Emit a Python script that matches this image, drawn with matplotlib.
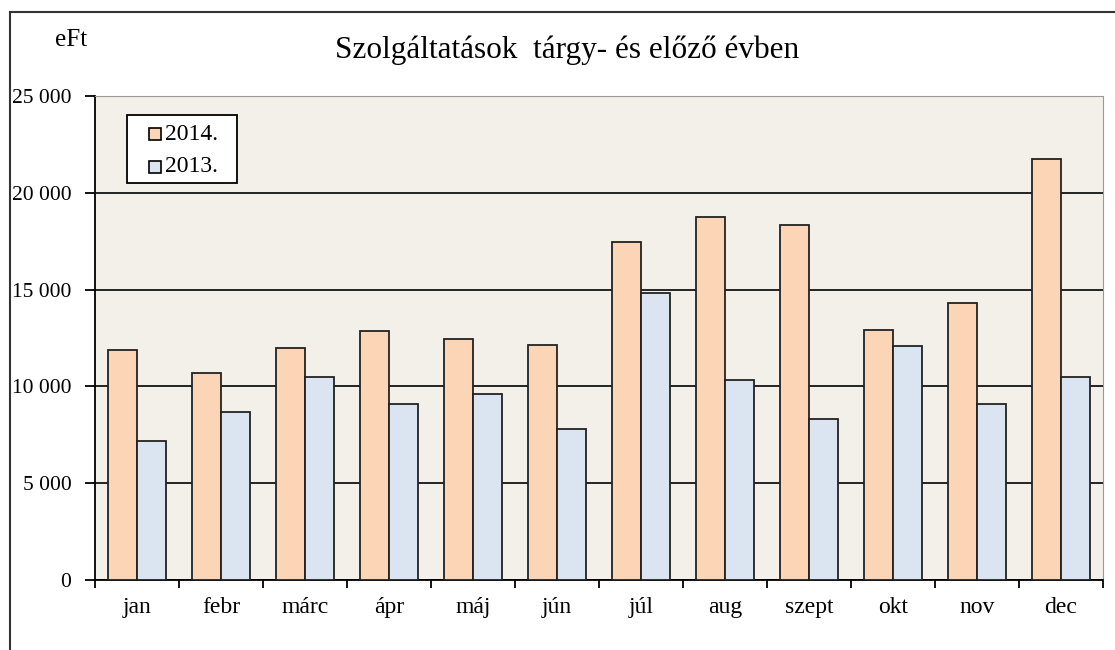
import numpy as np
import matplotlib.pyplot as plt
from matplotlib.lines import Line2D
from matplotlib.patches import Rectangle

plt.rcParams['font.family'] = ['Liberation Serif', 'DejaVu Serif']

months = ['jan', 'febr', 'márc', 'ápr', 'máj', 'jún', 'júl', 'aug', 'szept', 'okt', 'nov', 'dec']
v2014 = [11900, 10700, 12000, 12850, 12450, 12150, 17450, 18750, 18350, 12900, 14300, 21750]
v2013 = [7200, 8700, 10500, 9100, 9600, 7800, 14850, 10350, 8300, 12100, 9100, 10500]
series_names = ['2014.', '2013.']
colors = ['#fbd5b5', '#dbe5f1']

W, H = 1115, 650
fig = plt.figure(figsize=(W/100, H/100), dpi=100)
ax = fig.add_axes([95/W, 70/H, (1103-95)/W, (580-96)/H])
ax.set_facecolor('#f3f0ea')

x = np.arange(len(months))
w = 0.35
ax.bar(x - w/2, v2014, w, color=colors[0], edgecolor='#222222', linewidth=1.3, zorder=3)
ax.bar(x + w/2, v2013, w, color=colors[1], edgecolor='#222222', linewidth=1.3, zorder=3)

ax.set_xlim(-0.5, len(months) - 0.5)
ax.set_ylim(0, 25000)
yt = np.arange(0, 25001, 5000)
ax.set_yticks(yt)
ax.set_yticklabels([f'{v:,}'.replace(',', ' ') for v in yt], fontsize=15.5)
ax.yaxis.grid(True, color='black', linewidth=1.2, zorder=1)
ax.set_axisbelow(True)

# category boundaries get the tick marks, names sit in between
ax.set_xticks(np.arange(-0.5, len(months), 1))
ax.set_xticklabels([])
ax.set_xticks(x, minor=True)
ax.set_xticklabels(months, minor=True, fontsize=17)
ax.tick_params(axis='x', which='minor', length=0, pad=12)
ax.tick_params(axis='x', which='major', length=6, width=1.3, direction='out')
ax.tick_params(axis='y', length=7, width=1.3, direction='out', pad=10)

for s in ['top', 'right']:
    ax.spines[s].set_color('#999999')
ax.spines['left'].set_linewidth(1.3)
ax.spines['bottom'].set_linewidth(1.3)

# legend box drawn by hand (pixel positions of the original)
def px(xp, yp):
    return xp / W, 1 - yp / H

lx, ly = px(127, 183)
fig.add_artist(Rectangle((lx, ly), 110/W, 68/H, transform=fig.transFigure,
                         facecolor='white', edgecolor='black', linewidth=1.3, zorder=5))
for i, (name, c) in enumerate(zip(series_names, colors)):
    yc = 134 + 33 * i
    sx, sy = px(149, yc + 6)
    fig.add_artist(Rectangle((sx, sy), 12/W, 12/H, transform=fig.transFigure,
                             facecolor=c, edgecolor='black', linewidth=1.2, zorder=6))
    tx, ty = px(165, yc)
    fig.text(tx, ty, name, ha='left', va='center', fontsize=17, zorder=6)

fig.text(567/W, 1 - 50/H, 'Szolgáltatások  tárgy- és előző évben', ha='center', va='center', fontsize=22.5)
fig.text(71/W, 1 - 40/H, 'eFt', ha='center', va='center', fontsize=18)

# outer frame
fig.add_artist(Line2D([10/W, 10/W], [0, 1 - 12/H], transform=fig.transFigure, color='#333333', linewidth=1.5))
fig.add_artist(Line2D([10/W, 1], [1 - 12/H, 1 - 12/H], transform=fig.transFigure, color='#333333', linewidth=1.5))

fig.savefig('out.png', dpi=100)
